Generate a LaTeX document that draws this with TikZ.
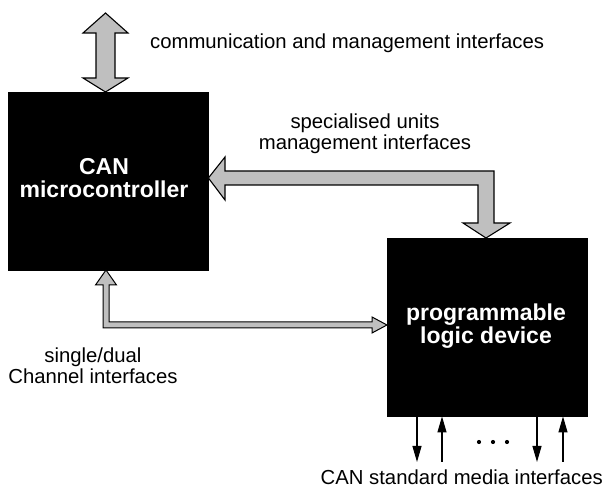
\documentclass[tikz,border=0pt]{standalone}
\usepackage{fontspec}
\setmainfont{Liberation Sans}
\usetikzlibrary{arrows.meta,calc}
\tikzset{
  blockbox/.style={fill=black, draw=black, inner sep=0pt, anchor=north west},
  blocktext/.style={text=white, inner sep=0pt, align=center,
    font=\fontsize{23}{23}\selectfont\bfseries},
  txt/.style={inner sep=0pt, align=center,
    font=\fontsize{20.3}{21.5}\selectfont},
  fatarrow/.style={fill=black!25, draw=black, line width=1.1pt, line join=miter},
  thinarrow/.style={line width=1.1pt, -{Triangle[length=16pt,width=9pt]}},
  dot/.style={circle, fill=black, inner sep=0pt, minimum size=4.2pt}
}
\begin{document}
\begin{tikzpicture}[x=1pt,y=-1pt]
  \useasboundingbox (0,0) rectangle (606,494);

  % the two processing blocks
  \node[blockbox, minimum width=200.5pt, minimum height=178pt] (mcu) at (7.5,92) {};
  \node[blockbox, minimum width=200pt, minimum height=178pt] (plc) at (387,238) {};
  \node[blocktext] (mcutext) at (104,178.3) {CAN\\microcontroller};
  \node[blocktext] (plctext) at (486,326.5) {programmable\\logic device};

  % communication and management interfaces (vertical double arrow)
  \draw[fatarrow] (105.5,13) -- (128,33) -- (115,33) -- (115,78) -- (128,78)
    -- (105.5,92) -- (83,78) -- (96,78) -- (96,33) -- (83,33) -- cycle;

  % specialised units management interfaces (L-shaped double arrow)
  \draw[fatarrow] (mcu.east |- 0,178) -- (225,157) -- (225,171) -- (494,171)
    -- (494,223) -- (510,223) -- (486,238) -- (463,223) -- (478,223)
    -- (478,185) -- (225,185) -- (225,200) -- cycle;

  % single/dual channel interfaces (thin L-shaped double arrow)
  \draw[fatarrow, line width=1pt] (106,270) -- (116.5,285) -- (109,285) -- (109,322)
    -- (372,322) -- (372,317) -- (plc.west |- 0,325) -- (372,333) -- (372,328)
    -- (103,328) -- (103,285) -- (95.5,285) -- cycle;

  % CAN standard media lines
  \coordinate (m1) at (417,462);
  \coordinate (m2) at (442,462);
  \coordinate (m3) at (537,462);
  \coordinate (m4) at (563,462);
  \draw[thinarrow] (plc.south -| m1) -- (m1);
  \draw[thinarrow] (m2) -- (plc.south -| m2);
  \draw[thinarrow] (plc.south -| m3) -- (m3);
  \draw[thinarrow] (m4) -- (plc.south -| m4);
  \node[dot] (d1) at (479,442) {};
  \node[dot] (d2) at (493,442) {};
  \node[dot] (d3) at (507,442) {};

  % interface labels
  \node[txt, anchor=base west] (lcomm) at (150,49) {communication and management interfaces};
  \node[txt] (lspec) at (365,134) {specialised units\\management interfaces};
  \node[txt] (lchan) at (93,365.7) {single/dual\\Channel interfaces};
  \node[txt, anchor=base east] (lmedia) at (603,485) {CAN standard media interfaces};
\end{tikzpicture}
\end{document}
